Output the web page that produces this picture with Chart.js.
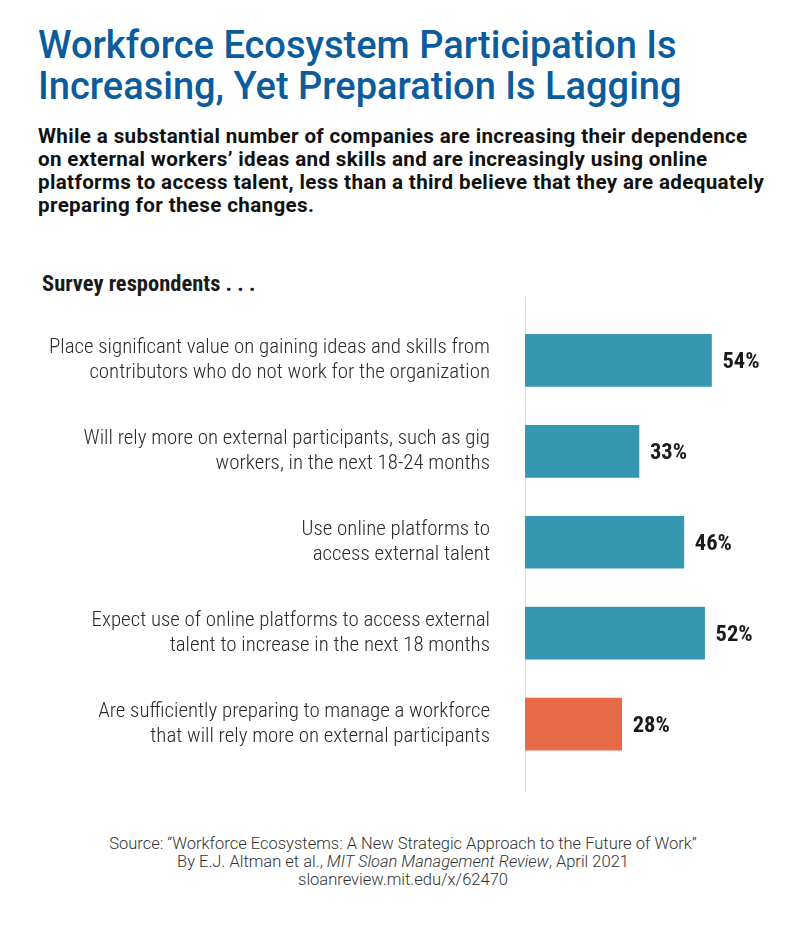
<!DOCTYPE html>
<html>
<head>
<meta charset="utf-8">
<script src="https://cdn.jsdelivr.net/npm/chart.js@4.4.1/dist/chart.umd.min.js"></script>
<style>
  body { margin: 0; background: #fff; }
  #page { position: relative; width: 800px; height: 925px; overflow: hidden; }
  #title {
    position: absolute; left: 38px; top: 25px;
    font-family: Roboto, sans-serif; font-weight: 500; font-size: 38px; line-height: 41px;
    color: #0b5c9d; white-space: nowrap;
  }
  #subtitle {
    position: absolute; left: 38px; top: 125px;
    font-family: Roboto, sans-serif; font-weight: 700; font-size: 20.6px; line-height: 23px;
    letter-spacing: 0.35px; color: #111; white-space: nowrap;
  }
  #lead {
    position: absolute; left: 42px; top: 271px;
    font-family: 'Liberation Sans Narrow', 'Roboto Condensed', Roboto, sans-serif; font-weight: 700; font-size: 22.5px; line-height: 24px;
    color: #1a1a1a; white-space: nowrap;
  }
  #source {
    position: absolute; left: 0; width: 806px; top: 835px; text-align: center;
    font-family: Roboto, sans-serif; font-weight: 300; font-size: 16.5px; line-height: 18px;
    color: #333;
  }
  #chart { position: absolute; left: 0; top: 240px; }
</style>
</head>
<body>
<div id="page">
  <div id="title">Workforce Ecosystem Participation Is<br>Increasing, Yet Preparation Is Lagging</div>
  <div id="subtitle">While a substantial number of companies are increasing their dependence<br>on external workers’ ideas and skills and are increasingly using online<br>platforms to access talent, less than a third believe that they are adequately<br>preparing for these changes.</div>
  <div id="lead">Survey respondents . . .</div>
  <canvas id="chart" width="800" height="590"></canvas>
  <div id="source">Source: “Workforce Ecosystems: A New Strategic Approach to the Future of Work”<br>By E.J. Altman et al., <i>MIT Sloan Management Review</i>, April 2021<br>sloanreview.mit.edu/x/62470</div>
</div>
<script>
// survey items (two-line labels)
const categories = [
    ['Place significant value on gaining ideas and skills from', 'contributors who do not work for the organization'],
    ['Will rely more on external participants, such as gig', 'workers, in the next 18-24 months'],
    ['Use online platforms to', 'access external talent'],
    ['Expect use of online platforms to access external', 'talent to increase in the next 18 months'],
    ['Are sufficiently preparing to manage a workforce', 'that will rely more on external participants']
];
const values = [54, 33, 46, 52, 28]; // percent of respondents

const teal = '#3597b0';
const orange = '#e66a46';
const barColors = [teal, teal, teal, teal, orange];

const narrow = "'Liberation Sans Narrow', 'Roboto Condensed', Roboto, sans-serif";

// thin vertical baseline behind the bars
const baseLine = {
    id: 'baseLine',
    beforeDatasetsDraw(chart) {
        const ctx = chart.ctx;
        const x = Math.round(chart.scales.x.getPixelForValue(0)) + 0.5;
        ctx.save();
        ctx.strokeStyle = '#dedede';
        ctx.lineWidth = 1;
        ctx.beginPath();
        ctx.moveTo(x, chart.chartArea.top - 18);
        ctx.lineTo(x, chart.chartArea.bottom + 23);
        ctx.stroke();
        ctx.restore();
    }
};

// percent labels at the end of each bar
const valueLabels = {
    id: 'valueLabels',
    afterDatasetsDraw(chart) {
        const ctx = chart.ctx;
        ctx.save();
        ctx.font = `bold 22.5px ${narrow}`;
        ctx.fillStyle = '#1a1a1a';
        ctx.textAlign = 'left';
        ctx.textBaseline = 'middle';
        chart.getDatasetMeta(0).data.forEach((bar, i) => {
            ctx.fillText(values[i] + '%', bar.x + 11, bar.y + 2);
        });
        ctx.restore();
    }
};

new Chart(document.getElementById('chart'), {
    type: 'bar',
    data: {
        labels: categories,
        datasets: [{
            data: values,
            backgroundColor: barColors,
            barThickness: 52
        }]
    },
    options: {
        indexAxis: 'y',
        responsive: false,
        animation: false,
        layout: { padding: { top: 75, bottom: 0, left: 0, right: 16 } },
        plugins: {
            legend: { display: false },
            tooltip: { enabled: false }
        },
        scales: {
            x: { display: false, min: 0, max: 75 },
            y: {
                grid: { display: false, drawTicks: false },
                border: { display: false },
                ticks: {
                    padding: 35,
                    color: '#2a2a2a',
                    font: { family: narrow, size: 20.9, weight: 300, lineHeight: 1.22 }
                },
                afterFit(scale) { scale.width = 525; }
            }
        }
    },
    plugins: [baseLine, valueLabels]
});
</script>
</body>
</html>
